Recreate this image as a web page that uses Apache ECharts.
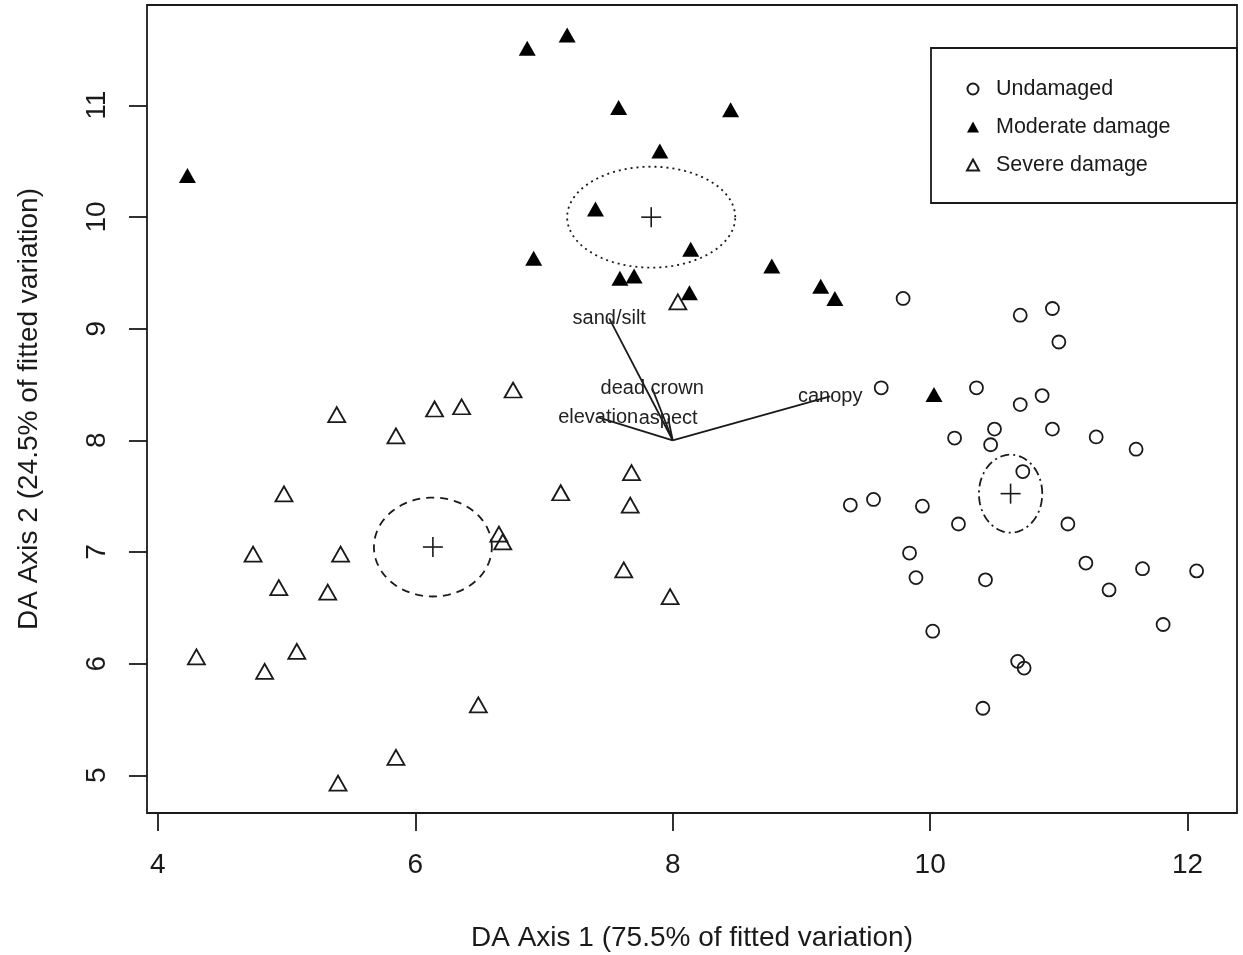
<!DOCTYPE html>
<html>
<head>
<meta charset="utf-8">
<script src="https://cdn.jsdelivr.net/npm/echarts@6/dist/echarts.min.js"></script>
<style>
html,body{margin:0;padding:0;background:#fff;}
#chart{width:1243px;height:955px;}
</style>
</head>
<body>
<div id="chart"></div>
<script>
// ---- Data ----
const groupNames = ['Undamaged', 'Moderate damage', 'Severe damage'];

const undamagedX = [9.79, 10.70, 10.95, 11.00, 9.62, 10.36, 10.87, 10.70, 10.19, 10.50, 10.47, 10.95, 11.29, 11.60, 10.72, 9.38,
  9.56, 9.94, 10.22, 11.07, 9.84, 9.89, 10.43, 11.21, 11.65, 12.07, 11.39, 10.02, 11.81, 10.68, 10.73, 10.41];
const undamagedY = [9.27, 9.12, 9.18, 8.88, 8.47, 8.47, 8.40, 8.32, 8.02, 8.10, 7.96, 8.10, 8.03, 7.92, 7.72, 7.42,
  7.47, 7.41, 7.25, 7.25, 6.99, 6.77, 6.75, 6.90, 6.85, 6.83, 6.66, 6.29, 6.35, 6.02, 5.96, 5.60];

const moderateX = [4.23, 6.87, 7.18, 7.58, 8.45, 7.90, 7.40, 6.92, 8.14, 7.59, 7.70, 8.13, 8.77, 9.15, 9.26, 10.03];
const moderateY = [10.37, 11.51, 11.63, 10.98, 10.96, 10.59, 10.07, 9.63, 9.71, 9.45, 9.47, 9.32, 9.56, 9.38, 9.27, 8.41];

const severeX = [6.76, 5.39, 6.15, 6.36, 5.85, 7.68, 7.13, 7.67, 4.98, 6.65, 6.68, 4.74, 5.42, 7.62, 4.94, 5.32,
  7.98, 4.30, 5.08, 4.83, 6.49, 5.85, 5.40, 8.04];
const severeY = [8.45, 8.23, 8.28, 8.30, 8.04, 7.71, 7.53, 7.42, 7.52, 7.16, 7.09, 6.98, 6.98, 6.84, 6.68, 6.64,
  6.60, 6.06, 6.11, 5.93, 5.63, 5.16, 4.93, 9.24];

// group centroids and ellipse radii (data units)
const centroidX = [10.625, 7.833, 6.137];
const centroidY = [7.522, 9.998, 7.044];
const ellipseRX = [0.246, 0.653, 0.458];
const ellipseRY = [0.349, 0.452, 0.443];

// biplot vectors
const arrowOrigin = [8.0, 8.0];
const varNames = ['sand/silt', 'dead crown', 'aspect', 'elevation', 'canopy'];
const varX = [7.507, 7.841, 7.965, 7.421, 9.224];
const varY = [9.091, 8.465, 8.196, 8.205, 8.393];

// axes
const xTicks = [4, 6, 8, 10, 12];
const yTicks = [5, 6, 7, 8, 9, 10, 11];
const xRange = [3.916, 12.384];
const yRange = [4.662, 11.898];
const xTitle = 'DA Axis 1 (75.5% of fitted variation)';
const yTitle = 'DA Axis 2 (24.5% of fitted variation)';

// ---- Chart ----
const FONT = 'Liberation Sans, Arial, Helvetica, sans-serif';
const INK = '#1a1a1a';
const dashes = [[9, 4, 2, 4], [2, 4], [8, 6]];

const pairs = (xs, ys) => xs.map((x, i) => [x, ys[i]]);

const chart = echarts.init(document.getElementById('chart'), null, {renderer: 'canvas'});

const option = {
  backgroundColor: '#fff',
  animation: false,
  grid: {left: 147, top: 5, width: 1090, height: 808, show: true, borderColor: INK, borderWidth: 1.8, backgroundColor: 'transparent'},
  xAxis: {
    type: 'value', min: xRange[0], max: xRange[1],
    axisLine: {show: false},
    splitLine: {show: false},
    axisTick: {show: true, length: 18, inside: false, customValues: xTicks, lineStyle: {color: INK, width: 1.8}},
    axisLabel: {customValues: xTicks, fontSize: 28, fontFamily: FONT, color: INK, margin: 38}
  },
  yAxis: {
    type: 'value', min: yRange[0], max: yRange[1],
    axisLine: {show: false},
    splitLine: {show: false},
    axisTick: {show: true, length: 18, inside: false, customValues: yTicks, lineStyle: {color: INK, width: 1.8}},
    axisLabel: {customValues: yTicks, fontSize: 28, fontFamily: FONT, color: INK, margin: 36, rotate: 90}
  },
  legend: {
    orient: 'vertical', left: 961, top: 73,
    itemWidth: 12, itemHeight: 11, itemGap: 16,
    textStyle: {fontSize: 21.5, fontFamily: FONT, color: INK, padding: [0, 0, 0, 12]},
    data: groupNames
  },
  graphic: [
    {type: 'rect', shape: {x: 931, y: 48, width: 306, height: 155}, style: {fill: 'none', stroke: INK, lineWidth: 1.8}, z: 10},
    {type: 'text', x: 692, y: 938, style: {text: xTitle, font: '28px ' + FONT, fill: INK, align: 'center', verticalAlign: 'middle'}},
    {type: 'text', x: 29, y: 409, rotation: Math.PI / 2, style: {text: yTitle, font: '28px ' + FONT, fill: INK, align: 'center', verticalAlign: 'middle'}}
  ],
  series: [
    {
      name: groupNames[0], type: 'scatter', data: pairs(undamagedX, undamagedY),
      symbol: 'circle', symbolSize: 13,
      itemStyle: {color: 'rgba(0,0,0,0)', borderColor: INK, borderWidth: 1.8, opacity: 1},
      z: 5
    },
    {
      name: groupNames[1], type: 'scatter', data: pairs(moderateX, moderateY),
      symbol: 'triangle', symbolSize: [17, 15],
      itemStyle: {color: '#000', opacity: 1},
      z: 5
    },
    {
      name: groupNames[2], type: 'scatter', data: pairs(severeX, severeY),
      symbol: 'triangle', symbolSize: [17, 15],
      itemStyle: {color: 'rgba(0,0,0,0)', borderColor: INK, borderWidth: 1.8, opacity: 1},
      z: 5
    },
    {
      name: 'ellipses', type: 'custom', silent: true, z: 3,
      data: centroidX.map((x, i) => [x, centroidY[i], ellipseRX[i], ellipseRY[i], i]),
      renderItem: function (params, api) {
        const cx = api.value(0), cy = api.value(1), rx = api.value(2), ry = api.value(3), k = api.value(4);
        const pts = [];
        for (let j = 0; j <= 120; j++) {
          const t = j / 120 * Math.PI * 2;
          pts.push(api.coord([cx + rx * Math.cos(t), cy + ry * Math.sin(t)]));
        }
        const c = api.coord([cx, cy]);
        return {
          type: 'group',
          children: [
            {type: 'polyline', shape: {points: pts}, style: {fill: 'none', stroke: INK, lineWidth: 1.8, lineDash: dashes[k]}},
            {type: 'line', shape: {x1: c[0] - 10, y1: c[1], x2: c[0] + 10, y2: c[1]}, style: {stroke: INK, lineWidth: 1.6}},
            {type: 'line', shape: {x1: c[0], y1: c[1] - 10, x2: c[0], y2: c[1] + 10}, style: {stroke: INK, lineWidth: 1.6}}
          ]
        };
      }
    },
    {
      name: 'vectors', type: 'custom', silent: true, z: 4,
      data: varNames.map((n, i) => [varX[i], varY[i], i]),
      renderItem: function (params, api) {
        const o = api.coord(arrowOrigin);
        const t = api.coord([api.value(0), api.value(1)]);
        const name = varNames[api.value(2)];
        return {
          type: 'group',
          children: [
            {type: 'line', shape: {x1: o[0], y1: o[1], x2: t[0], y2: t[1]}, style: {stroke: INK, lineWidth: 1.8}},
            {type: 'text', style: {text: name, x: t[0], y: t[1], font: '20px ' + FONT, fill: '#222', align: 'center', verticalAlign: 'middle'}}
          ]
        };
      }
    }
  ]
};
chart.setOption(option);
</script>
</body>
</html>
